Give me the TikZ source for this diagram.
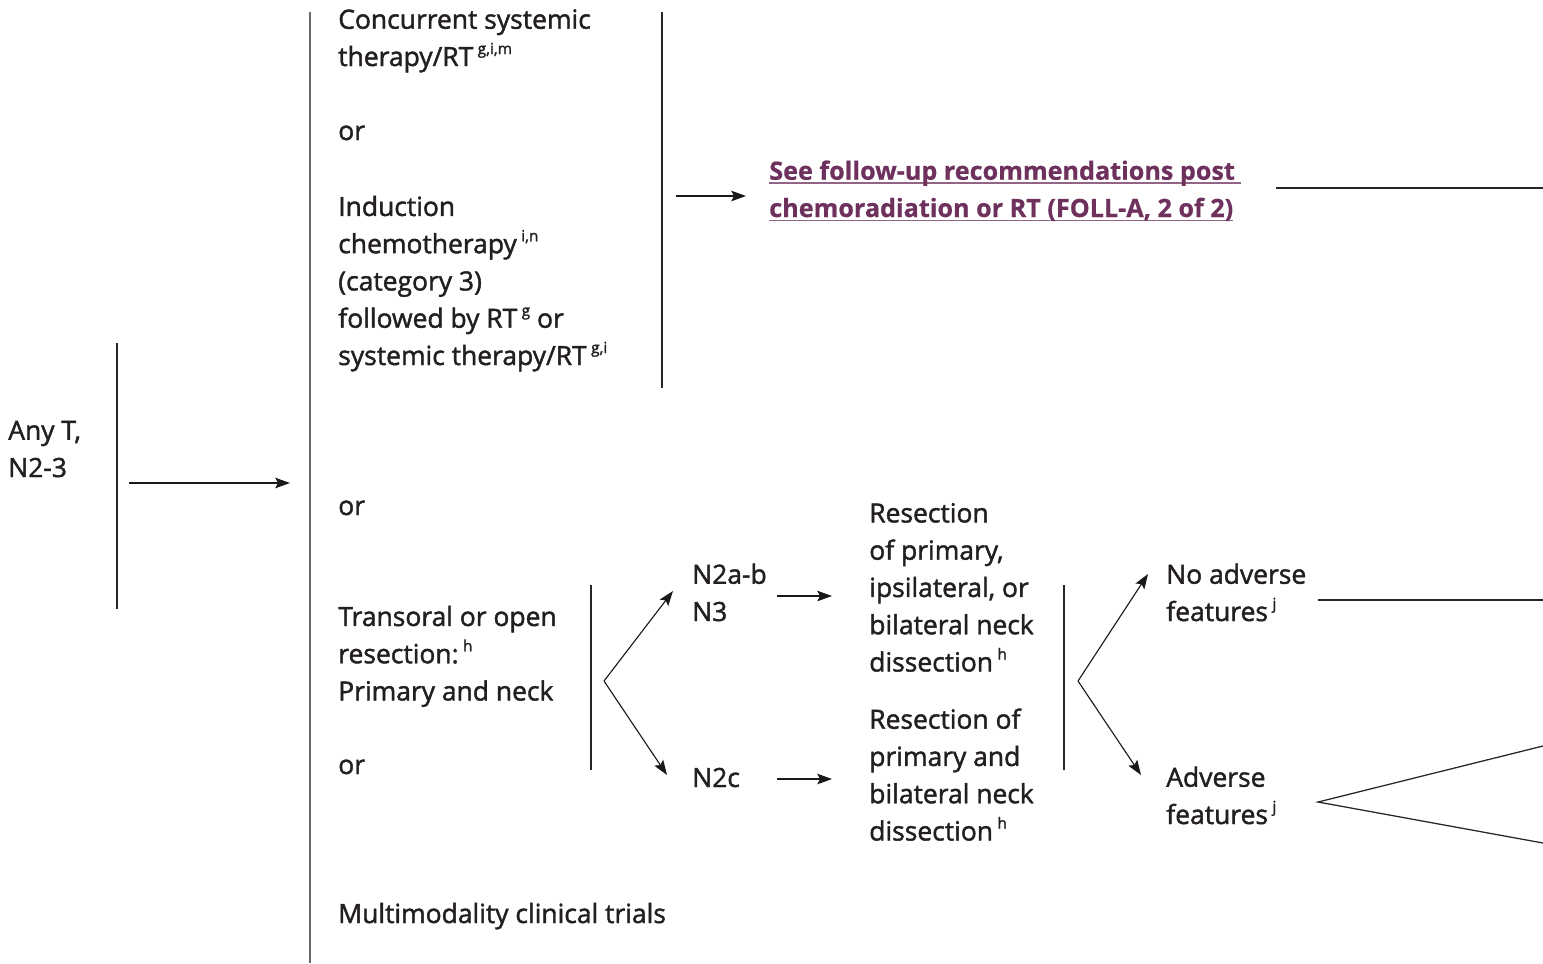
\documentclass[tikz,border=0pt]{standalone}
\usepackage{fontspec}
\setmainfont{Open Sans}[UprightFeatures={FakeBold=1.6},BoldFeatures={FakeBold=0.6}]
\usepackage{xcolor}
\usepackage{tikz}
\usetikzlibrary{arrows.meta}

\definecolor{txtgray}{HTML}{231F20}
\definecolor{linkpurple}{RGB}{110,48,92}
\definecolor{bargray}{RGB}{105,105,105}

% footnote letters and underlined link lines
\newcommand{\fnref}[1]{\,\raisebox{0.45em}{\fontsize{11}{11}\selectfont #1}}
\newsavebox{\linkbox}
\newcommand{\ulink}[1]{\sbox\linkbox{#1}\rlap{\color{linkpurple!75}\rule[-3pt]{\wd\linkbox}{1.1pt}}\usebox\linkbox}

% base of a text node = baseline of its last line
\tikzset{
	txt/.style={anchor=base west,inner sep=0pt,align=left,text=txtgray,font=\fontsize{18.8}{26.5}\selectfont},
	link/.style={txt,text=linkpurple,font=\fontsize{17.9}{26.5}\selectfont\bfseries},
	bar/.style={draw=black!85,line width=0.9pt},
	longbar/.style={draw=bargray,line width=1.2pt},
	arr/.style={draw=black!90,line width=0.8pt,-{Stealth[length=10.5pt,width=7.5pt,inset=2pt]}},
}

\begin{document}
\begin{tikzpicture}[x=0.025cm,y=-0.025cm]
	\useasboundingbox (0,0) rectangle (1543,963);
	
	% left column
	\node (anyt) at(8,477)[txt]{Any T,\\N2-3};
	\coordinate (b0top) at (117,343); \coordinate (b0bot) at (117,609);
	\draw[bar] (b0top) -- (b0bot);
	\coordinate (a0s) at (129,483); \coordinate (a0e) at (290,483);
	\draw[arr] (a0s) -- (a0e);
	\coordinate (b1top) at (310,12); \coordinate (b1bot) at (310,963);
	\draw[longbar] (b1top) -- (b1bot);
	
	% treatment options
	\node (conc) at(338,66)[txt]{Concurrent systemic\\therapy/RT\fnref{g,i,m}};
	\foreach \y/\nm in {140/or1,515/or2,774/or3}{
		\node (\nm) at(338,\y)[txt]{or};
	}
	\node (induc) at(338,365)[txt]{Induction\\chemotherapy\fnref{i,n}\\(category 3)\\followed by RT\fnref{g} or\\systemic therapy/RT\fnref{g,i}};
	\node (transoral) at(338,700.5)[txt]{Transoral or open\\resection:\fnref{h}\\Primary and neck};
	\node (multi) at(338,923)[txt]{Multimodality clinical trials};
	
	% upper branch
	\coordinate (b2top) at (662,12); \coordinate (b2bot) at (662,388);
	\draw[bar] (b2top) -- (b2bot);
	\coordinate (a1s) at (676,196); \coordinate (a1e) at (746,196);
	\draw[arr] (a1s) -- (a1e);
	\node (follow) at(769,217)[link]{\ulink{See follow-up recommendations post\ }\\\ulink{chemoradiation or RT (FOLL-A, 2 of 2)}};
	\coordinate (l1s) at (1276,188); \coordinate (l1e) at (1543,188);
	\draw[bar] (l1s) -- (l1e);
	
	% surgery branch
	\coordinate (b3top) at (591,585); \coordinate (b3bot) at (591,770);
	\draw[bar] (b3top) -- (b3bot);
	\coordinate (fork1) at (604,681);
	\coordinate (f1up) at (673,591); \coordinate (f1dn) at (667,775);
	\draw[arr] (fork1) -- (f1up);
	\draw[arr] (fork1) -- (f1dn);
	\node (n2ab) at(692,621)[txt]{N2a-b\\N3};
	\node (n2c) at(692,787)[txt]{N2c};
	\coordinate (a2s) at (777,596); \coordinate (a2e) at (832,596);
	\coordinate (a3s) at (777,779); \coordinate (a3e) at (832,779);
	\draw[arr] (a2s) -- (a2e);
	\draw[arr] (a3s) -- (a3e);
	\node (resA) at(869,671.5)[txt]{Resection\\of primary,\\ipsilateral, or\\bilateral neck\\dissection\fnref{h}};
	\node (resB) at(869,840.5)[txt]{Resection of\\primary and\\bilateral neck\\dissection\fnref{h}};
	
	% pathology
	\coordinate (b4top) at (1064,585); \coordinate (b4bot) at (1064,770);
	\draw[bar] (b4top) -- (b4bot);
	\coordinate (fork2) at (1078,681);
	\coordinate (f2up) at (1148,574); \coordinate (f2dn) at (1141,775);
	\draw[arr] (fork2) -- (f2up);
	\draw[arr] (fork2) -- (f2dn);
	\node (noadv) at(1166,621)[txt]{No adverse\\features\fnref{j}};
	\node (adv) at(1166,824)[txt]{Adverse\\features\fnref{j}};
	\coordinate (l2s) at (1318,600); \coordinate (l2e) at (1543,600);
	\draw[bar] (l2s) -- (l2e);
	\coordinate (fork3) at (1318,802);
	\coordinate (f3up) at (1543,746); \coordinate (f3dn) at (1543,843);
	\draw[bar] (f3up) -- (fork3) -- (f3dn);
\end{tikzpicture}
\end{document}
